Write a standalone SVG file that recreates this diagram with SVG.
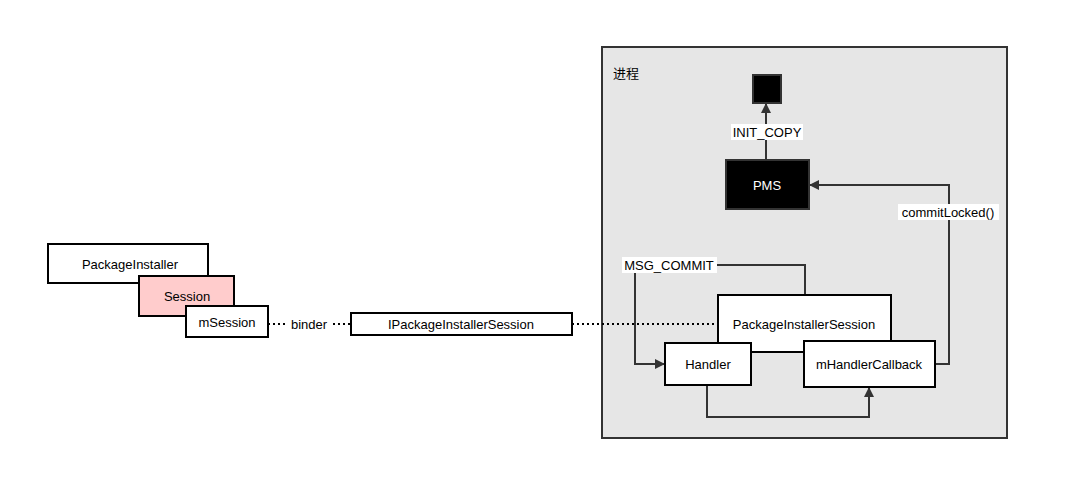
<svg xmlns="http://www.w3.org/2000/svg" width="1068" height="500" viewBox="0 0 1068 500">
<style>
text{font-family:"Liberation Sans","Noto Sans CJK SC",sans-serif;font-size:13px;fill:#000;text-anchor:middle;dominant-baseline:central}
.b{fill:#fff;stroke:#000;stroke-width:2}
.l{fill:none;stroke:#333;stroke-width:2}
.d{fill:none;stroke:#000;stroke-width:2;stroke-dasharray:2 3}
.lb{fill:#fff}
</style>
<defs><marker id="a" markerWidth="10" markerHeight="10" refX="9" refY="5" orient="auto" markerUnits="userSpaceOnUse"><path d="M0,0L10,5L0,10z" fill="#333"/></marker></defs>
<rect width="1068" height="500" fill="#fff"/>
<g id="process"><rect x="602" y="47" width="405" height="391" fill="#e6e6e6" stroke="#333" stroke-width="2"/><text x="626" y="73">进程</text></g>
<g id="pi"><rect class="b" x="48" y="244" width="160" height="39"/><text x="130" y="264">PackageInstaller</text></g>
<g id="session"><rect class="b" x="139" y="276" width="95" height="40" fill="#ffcccc" style="fill:#ffcccc"/><text x="187" y="296">Session</text></g>
<g id="msession"><rect class="b" x="186" y="306" width="82" height="31"/><text x="227" y="322">mSession</text></g>
<g id="ipis"><rect class="b" x="351" y="313" width="221" height="22"/><text x="461" y="324">IPackageInstallerSession</text></g>
<g id="top"><rect x="753" y="75" width="28" height="28" fill="#000" stroke="#333" stroke-width="2"/></g>
<g id="pms"><rect x="726" y="160" width="83" height="49" fill="#000" stroke="#333" stroke-width="2"/><text x="767" y="185" style="fill:#fff">PMS</text></g>
<g id="connectors">
<path class="d" d="M268,324H350"/><rect class="lb" x="287" y="316" width="44" height="16"/><text x="309" y="324">binder</text>
<path class="d" d="M572,324H718"/>
<path class="l" d="M766,160V104" marker-end="url(#a)"/><rect class="lb" x="731" y="124" width="72" height="16"/><text x="767" y="132">INIT_COPY</text>
<path class="l" d="M717,265H805V295"/>
<path class="l" d="M635,273V364H664" marker-end="url(#a)"/>
<rect class="lb" x="622" y="257" width="95" height="16"/><text x="669" y="265">MSG_COMMIT</text>
<path class="l" d="M707,385V417H869V388" marker-end="url(#a)"/>
<path class="l" d="M935,364H949V185H810" marker-end="url(#a)"/>
<rect class="lb" x="898" y="204" width="101" height="16"/><text x="948" y="212">commitLocked()</text>
</g>
<g id="pisession"><rect class="b" x="718" y="295" width="173" height="57"/><text x="804" y="324">PackageInstallerSession</text></g>
<g id="handler"><rect class="b" x="665" y="343" width="86" height="42"/><text x="708" y="364">Handler</text></g>
<g id="cb"><rect class="b" x="804" y="341" width="131" height="46"/><text x="869" y="364">mHandlerCallback</text></g>
</svg>
